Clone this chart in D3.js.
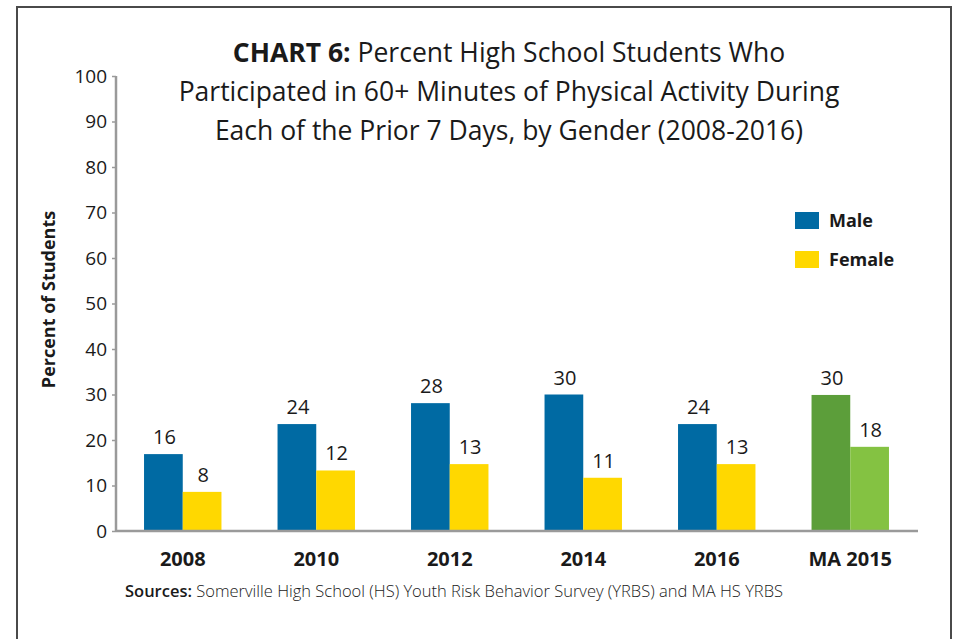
<!DOCTYPE html>
<html>
<head>
<meta charset="utf-8">
<script src="https://cdn.jsdelivr.net/npm/d3@7"></script>
<style>
  body { margin: 0; background: #fff; }
  text { font-family: "Open Sans", "Noto Sans", sans-serif; fill: #1a1a1a; }
</style>
</head>
<body>
<div id="chart"></div>
<script>
// data
var categories = ["2008", "2010", "2012", "2014", "2016", "MA 2015"];
var maleValues = [16.9, 23.5, 28.1, 30.0, 23.5, 29.9];
var femaleValues = [8.6, 13.3, 14.7, 11.7, 14.7, 18.5];
var maleLabels = ["16", "24", "28", "30", "24", "30"];
var femaleLabels = ["8", "12", "13", "11", "13", "18"];
var yTicks = [0, 10, 20, 30, 40, 50, 60, 70, 80, 90, 100];
var series = ["Male", "Female"];
var maleColors = ["#006aa3", "#006aa3", "#006aa3", "#006aa3", "#006aa3", "#5c9e3a"];
var femaleColors = ["#ffd800", "#ffd800", "#ffd800", "#ffd800", "#ffd800", "#84c242"];
var legendColors = ["#006aa3", "#ffd800"];

var W = 957, H = 639;
var margin = {top: 76, right: 40, bottom: 108, left: 116},
    width = W - margin.left - margin.right,
    height = H - margin.top - margin.bottom;

var svg = d3.select("#chart").append("svg")
    .attr("width", W)
    .attr("height", H);

// outer frame (left, top, right edges)
svg.append("path")
    .attr("d", "M17," + H + "V7H951V" + H)
    .attr("fill", "none")
    .attr("stroke", "#4a4a4a")
    .attr("stroke-width", 2);

var g = svg.append("g")
    .attr("transform", "translate(" + margin.left + "," + margin.top + ")");

var x = d3.scaleBand().domain(categories).range([0, width])
    .paddingInner(0.42).paddingOuter(0.21);
var xs = d3.scaleBand().domain(series).range([0, x.bandwidth()]);
var y = d3.scaleLinear().domain([0, 100]).range([height, 0]);

// y axis
var yAxis = g.append("g")
    .call(d3.axisLeft(y).tickValues(yTicks).tickSize(4).tickPadding(5));
yAxis.select(".domain").attr("stroke", "#9a9a9a").attr("stroke-width", 2.5)
    .attr("d", "M0," + height + "V0");
yAxis.selectAll(".tick line").attr("stroke", "#9a9a9a").attr("stroke-width", 1.5);
yAxis.selectAll(".tick text")
    .style("font-size", "19px")
    .style("font-family", "\"Open Sans\", sans-serif")
    .attr("fill", "#1a1a1a");

// bars
var groups = g.selectAll(".grp")
    .data(categories)
    .enter().append("g")
    .attr("class", "grp")
    .attr("transform", function (d) { return "translate(" + x(d) + ",0)"; });

groups.append("rect")
    .attr("x", xs("Male"))
    .attr("y", function (d, i) { return y(maleValues[i]); })
    .attr("width", xs.bandwidth())
    .attr("height", function (d, i) { return height - y(maleValues[i]); })
    .attr("fill", function (d, i) { return maleColors[i]; });

groups.append("rect")
    .attr("x", xs("Female"))
    .attr("y", function (d, i) { return y(femaleValues[i]); })
    .attr("width", xs.bandwidth())
    .attr("height", function (d, i) { return height - y(femaleValues[i]); })
    .attr("fill", function (d, i) { return femaleColors[i]; });

// value labels
groups.append("text")
    .attr("x", xs("Male") + xs.bandwidth() / 2 + 1)
    .attr("y", function (d, i) { return y(maleValues[i]) - 10; })
    .attr("text-anchor", "middle")
    .style("font-size", "20px")
    .text(function (d, i) { return maleLabels[i]; });

groups.append("text")
    .attr("x", xs("Female") + xs.bandwidth() / 2 + 1)
    .attr("y", function (d, i) { return y(femaleValues[i]) - 10; })
    .attr("text-anchor", "middle")
    .style("font-size", "20px")
    .text(function (d, i) { return femaleLabels[i]; });

// x baseline
g.append("line")
    .attr("x1", 0).attr("x2", width + 1)
    .attr("y1", height).attr("y2", height)
    .attr("stroke", "#9a9a9a")
    .attr("stroke-width", 2.5);

// category labels
g.selectAll(".cat")
    .data(categories)
    .enter().append("text")
    .attr("class", "cat")
    .attr("x", function (d) { return x(d) + x.bandwidth() / 2; })
    .attr("y", height + 35)
    .attr("text-anchor", "middle")
    .style("font-size", "20px")
    .style("font-weight", "bold")
    .text(function (d) { return d; });

// y axis title
svg.append("text")
    .attr("transform", "translate(55," + (margin.top + height / 2 - 4) + ") rotate(-90)")
    .attr("text-anchor", "middle")
    .style("font-size", "18px")
    .style("font-weight", "bold")
    .text("Percent of Students");

// title
var title = svg.append("text")
    .attr("text-anchor", "middle")
    .style("font-size", "26.5px");
var t1 = title.append("tspan").attr("x", 509).attr("y", 62);
t1.append("tspan").style("font-weight", "bold").text("CHART 6:");
t1.append("tspan").text(" Percent High School Students Who");
title.append("tspan").attr("x", 509).attr("y", 101)
    .text("Participated in 60+ Minutes of Physical Activity During");
title.append("tspan").attr("x", 509).attr("y", 140)
    .text("Each of the Prior 7 Days, by Gender (2008-2016)");

// legend
var legend = svg.selectAll(".leg")
    .data(series)
    .enter().append("g")
    .attr("class", "leg")
    .attr("transform", function (d, i) { return "translate(795," + (212 + i * 39) + ")"; });
legend.append("rect")
    .attr("width", 24).attr("height", 17)
    .attr("fill", function (d, i) { return legendColors[i]; });
legend.append("text")
    .attr("x", 34).attr("y", 15)
    .style("font-size", "18px")
    .style("font-weight", "bold")
    .text(function (d) { return d; });

// sources
var src = svg.append("text")
    .attr("x", 125).attr("y", 597)
    .style("font-size", "16.5px")
    .attr("fill", "#333");
src.append("tspan").style("font-weight", "600").text("Sources:");
src.append("tspan").style("font-weight", "300")
    .text(" Somerville High School (HS) Youth Risk Behavior Survey (YRBS) and MA HS YRBS");
</script>
</body>
</html>
